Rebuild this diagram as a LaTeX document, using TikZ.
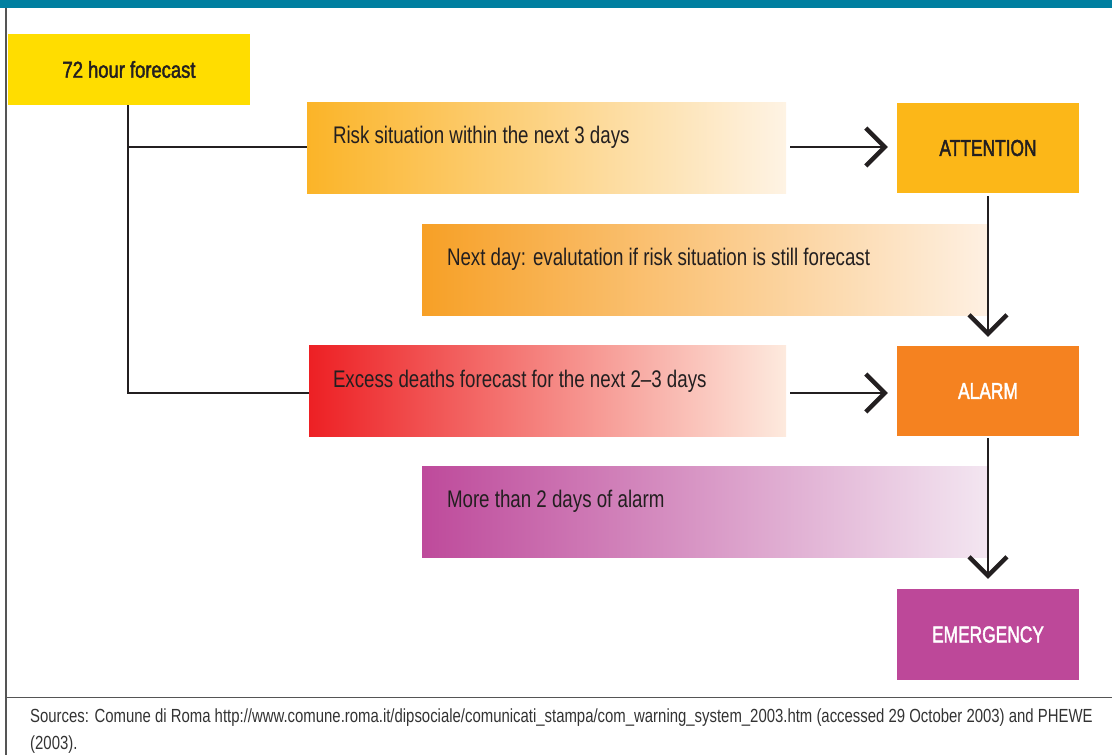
\documentclass[tikz,border=0pt]{standalone}
\usepackage{fontspec}
\setmainfont{Liberation Sans}[FakeStretch=0.78]
\newfontfamily\labelfont{Liberation Sans}[FakeStretch=0.8,FakeBold=1.8]
\newfontfamily\capsfont{Liberation Sans}[FakeStretch=0.755,FakeBold=1.8]
\newfontfamily\srcfont{Liberation Sans}[FakeStretch=0.785]
\usetikzlibrary{arrows.meta,calc}
\definecolor{barteal}{RGB}{0,127,160}
\definecolor{fcyellow}{RGB}{255,221,0}
\definecolor{attyellow}{RGB}{252,183,24}
\definecolor{alarmorange}{RGB}{245,130,32}
\definecolor{emergmag}{RGB}{189,72,153}
\definecolor{txtdark}{RGB}{35,31,32}
\definecolor{framegray}{RGB}{85,85,85}
\definecolor{srcgray}{RGB}{51,51,51}
\definecolor{riskL}{RGB}{251,180,40}
\definecolor{riskR}{RGB}{254,243,228}
\definecolor{nextL}{RGB}{247,160,38}
\definecolor{nextR}{RGB}{254,240,226}
\definecolor{excL}{RGB}{237,32,36}
\definecolor{excR}{RGB}{253,234,222}
\definecolor{moreL}{RGB}{190,74,155}
\definecolor{moreR}{RGB}{243,230,241}
\tikzset{
  solidbox/.style={rectangle, inner sep=0pt, draw=none, font=\labelfont\fontsize{23}{26}\selectfont},
  capsbox/.style={solidbox, font=\capsfont\fontsize{23}{26}\selectfont},
  gradbox/.style={rectangle, inner sep=0pt, draw=none},
  boxtext/.style={anchor=base west, inner sep=0pt, text=txtdark, font=\fontsize{24}{26}\selectfont},
  conn/.style={draw=txtdark, line width=2pt},
  chev/.style={conn, -{Straight Barb[length=19pt,width=38pt,line width=4.3pt]}},
  frame/.style={draw=framegray, line width=1.5pt},
  srctext/.style={anchor=base west, inner sep=0pt, text=srcgray, font=\srcfont\fontsize{19}{27}\selectfont}
}
\begin{document}
\begin{tikzpicture}[x=1pt,y=-1pt]
\useasboundingbox (0,0) rectangle (1112,755);
% frame
\fill[barteal] (0,0) rectangle (1112,8);
\draw[frame] (6,8) -- (6,755);
\draw[frame] (6,697.5) -- (1112,697.5);
% solid boxes
\node[solidbox, fill=fcyellow, text=txtdark, minimum width=242pt, minimum height=71pt] (fc) at (129,69.5) {72 hour forecast};
\node[capsbox, fill=attyellow, text=txtdark, minimum width=182pt, minimum height=90pt] (att) at (988,148) {ATTENTION};
\node[capsbox, fill=alarmorange, text=white, minimum width=182pt, minimum height=90pt] (alarm) at (988,391) {ALARM};
\node[capsbox, fill=emergmag, text=white, minimum width=182pt, minimum height=91pt] (emerg) at (988,634.5) {EMERGENCY};
% gradient boxes
\node[gradbox, left color=riskL, right color=riskR, minimum width=479pt, minimum height=91pt] (risk) at (546.5,147.5) {};
\node[gradbox, left color=nextL, right color=nextR, minimum width=566pt, minimum height=91pt] (next) at (705,269.5) {};
\node[gradbox, left color=excL, right color=excR, minimum width=477pt, minimum height=91pt] (exc) at (547.5,391) {};
\node[gradbox, left color=moreL, right color=moreR, minimum width=566pt, minimum height=91pt] (more) at (705,511.5) {};
% gradient box texts
\node[boxtext] (risktxt) at ($(risk.north west)+(26,42)$) {Risk situation within the next 3 days};
\node[boxtext] (nexttxt) at ($(next.north west)+(25,42)$) {Next day: evalutation if risk situation is still forecast};
\node[boxtext] (exctxt) at ($(exc.north west)+(24,42)$) {Excess deaths forecast for the next 2–3 days};
\node[boxtext] (moretxt) at ($(more.north west)+(25,42)$) {More than 2 days of alarm};
% connectors
\draw[conn] (fc.south -| 128,0) -- (128,393) -- (exc.west |- 0,393);
\draw[conn] (128,147) -- (risk.west |- 0,147);
\draw[chev, shorten <=4pt, shorten >=9pt] (risk.east |- 0,147) -- (att.west |- 0,147);
\draw[chev, shorten <=4pt, shorten >=9pt] (exc.east |- 0,393) -- (alarm.west |- 0,393);
\draw[chev, shorten <=3pt, shorten >=9pt] (att.south) -- (alarm.north);
\draw[chev, shorten <=2pt, shorten >=10pt] (alarm.south) -- (emerg.north);
% sources
\node[srctext] (src1) at (30,722) {Sources: Comune di Roma http://www.comune.roma.it/dipsociale/comunicati\_stampa/com\_warning\_system\_2003.htm (accessed 29 October 2003) and PHEWE};
\node[srctext] (src2) at (30,749) {(2003).};
\end{tikzpicture}
\end{document}
